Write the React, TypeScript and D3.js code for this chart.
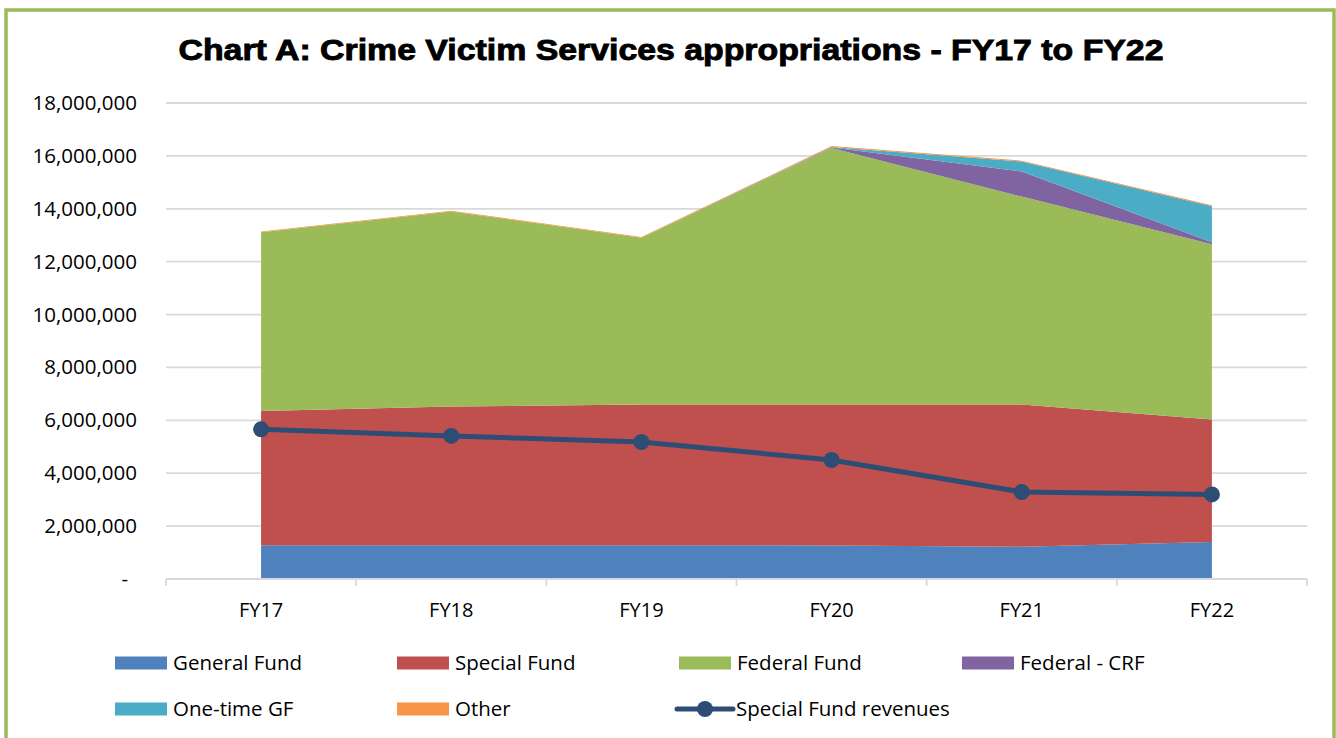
import React from "react";
import * as d3 from "d3";

const categories = ["FY17", "FY18", "FY19", "FY20", "FY21", "FY22"];
const generalFund = [1280000, 1280000, 1280000, 1270000, 1220000, 1400000];
const specialFund = [5070000, 5240000, 5320000, 5330000, 5380000, 4630000];
const federalFund = [6760000, 7380000, 6300000, 9700000, 7860000, 6630000];
const federalCRF = [0, 0, 0, 20000, 950000, 70000];
const oneTimeGF = [0, 0, 0, 20000, 380000, 1370000];
const other = [30000, 30000, 30000, 30000, 30000, 30000];
const specialFundRevenues = [5660000, 5410000, 5180000, 4500000, 3290000, 3200000];
const yTicks = [0, 2000000, 4000000, 6000000, 8000000, 10000000, 12000000, 14000000, 16000000, 18000000];

const seriesNames = ["General Fund", "Special Fund", "Federal Fund", "Federal - CRF", "One-time GF", "Other"];
const seriesColors = ["#4F81BD", "#C0504D", "#9BBB59", "#8064A2", "#4BACC6", "#F79646"];
const lineColor = "#2E4D75";
const font = "'Open Sans', sans-serif";

export default function App() {
  const W = 1336, H = 738;
  const left = 166, right = 1307, top = 103, bottom = 579;
  const x = d3.scaleBand<string>().domain(categories).range([left, right]);
  const cx = (c: string) => (x(c) as number) + x.bandwidth() / 2;
  const y = d3.scaleLinear().domain([0, 18000000]).range([bottom, top]);

  const rows = categories.map((c, i) => ({
    cat: c,
    "General Fund": generalFund[i],
    "Special Fund": specialFund[i],
    "Federal Fund": federalFund[i],
    "Federal - CRF": federalCRF[i],
    "One-time GF": oneTimeGF[i],
    "Other": other[i],
  }));
  const stacked = d3.stack<any>().keys(seriesNames)(rows);
  const area = d3
    .area<any>()
    .x((d) => cx(d.data.cat))
    .y0((d) => y(d[0]))
    .y1((d) => y(d[1]));
  const line = d3
    .line<number>()
    .x((_, i) => cx(categories[i]))
    .y((d) => y(d));
  const fmt = d3.format(",");

  const boundaries = d3.range(categories.length + 1).map((i) => left + i * x.bandwidth());

  const legendItems = [
    { name: "General Fund", color: seriesColors[0], lx: 115, ly: 663 },
    { name: "Special Fund", color: seriesColors[1], lx: 397, ly: 663 },
    { name: "Federal Fund", color: seriesColors[2], lx: 679, ly: 663 },
    { name: "Federal - CRF", color: seriesColors[3], lx: 962, ly: 663 },
    { name: "One-time GF", color: seriesColors[4], lx: 115, ly: 709 },
    { name: "Other", color: seriesColors[5], lx: 397, ly: 709 },
  ];

  return (
    <svg width={W} height={H} style={{ position: "absolute", left: 0, top: 0, background: "#fff" }}>
      <rect x={0} y={0} width={W} height={H} fill="#fff" />
      <rect x={6} y={10} width={1328} height={760} fill="none" stroke="#9BBB59" strokeWidth={3.5} />
      <text
        x={671}
        y={60}
        textAnchor="middle"
        fontFamily="'Liberation Sans', Arial, sans-serif"
        fontWeight={900}
        fontSize={30}
        stroke="#000"
        strokeWidth={0.9}
        textLength={985}
        lengthAdjust="spacingAndGlyphs"
      >
        Chart A: Crime Victim Services appropriations - FY17 to FY22
      </text>

      {yTicks.map((t) => (
        <g key={t}>
          {t > 0 && <line x1={left} x2={right} y1={y(t)} y2={y(t)} stroke="#D9D9D9" strokeWidth={1.8} />}
          <text
            x={t === 0 ? 128 : 137}
            y={y(t) + 7}
            textAnchor="end"
            fontFamily={font}
            fontSize={20.5}
            fill="#000"
          >
            {t === 0 ? "-" : fmt(t)}
          </text>
        </g>
      ))}

      {stacked.map((s, i) => (
        <path key={s.key} d={area(s as any) as string} fill={seriesColors[i]} />
      ))}

      <line x1={left} x2={right} y1={bottom} y2={bottom} stroke="#D9D9D9" strokeWidth={1.8} />
      {boundaries.map((bx, i) => (
        <line key={i} x1={bx} x2={bx} y1={bottom} y2={bottom + 7} stroke="#D9D9D9" strokeWidth={1.8} />
      ))}
      {categories.map((c) => (
        <text key={c} x={cx(c)} y={617} textAnchor="middle" fontFamily={font} fontSize={20} fill="#000">
          {c}
        </text>
      ))}

      <path d={line(specialFundRevenues) as string} fill="none" stroke={lineColor} strokeWidth={5} strokeLinejoin="round" />
      {specialFundRevenues.map((v, i) => (
        <circle key={i} cx={cx(categories[i])} cy={y(v)} r={8} fill={lineColor} />
      ))}

      {legendItems.map((it) => (
        <g key={it.name}>
          <rect x={it.lx} y={it.ly - 6.5} width={52} height={13} fill={it.color} />
          <text x={it.lx + 58} y={it.ly + 7} fontFamily={font} fontSize={20.5} fill="#000">
            {it.name}
          </text>
        </g>
      ))}
      <g>
        <line x1={677} x2={733} y1={709} y2={709} stroke={lineColor} strokeWidth={5} strokeLinecap="round" />
        <circle cx={705} cy={709} r={8} fill={lineColor} />
        <text x={736} y={716} fontFamily={font} fontSize={20.5} fill="#000">
          Special Fund revenues
        </text>
      </g>
    </svg>
  );
}
